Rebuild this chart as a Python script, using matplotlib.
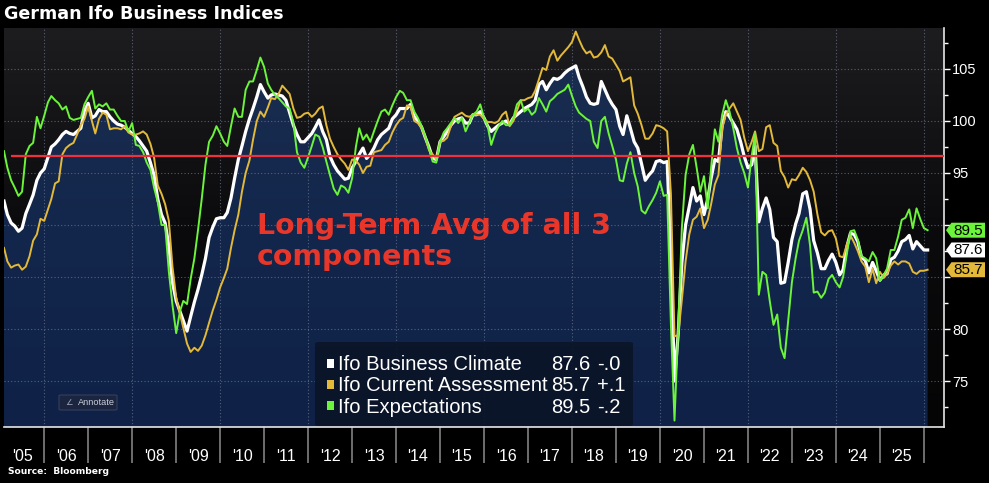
import numpy as np
import pandas as pd
import matplotlib
matplotlib.use("Agg")
import matplotlib.pyplot as plt
import matplotlib.dates as mdates
import matplotlib.transforms as mtransforms
from matplotlib.patches import Polygon, Rectangle, FancyBboxPatch
from matplotlib.colors import LinearSegmentedColormap

# monthly values, Jan 2005 .. Jan 2026 (one row per year)
climate = [
    92.3, 91.0, 90.2, 89.9, 89.4, 89.7, 91.1, 92.0, 92.9, 94.3, 95.0, 95.4,
    96.5, 97.5, 97.8, 98.2, 98.7, 99.0, 98.8, 98.7, 99.0, 99.3, 101.0, 101.7,
    100.3, 100.5, 101.1, 100.9, 100.9, 100.4, 100.0, 99.7, 99.6, 99.4, 99.1, 98.8,
    98.5, 98.1, 97.6, 97.1, 96.0, 94.8, 92.5, 91.0, 90.2, 88.0, 84.5, 82.7,
    81.7, 80.8, 79.8, 81.2, 82.6, 83.8, 85.2, 86.8, 88.8, 89.8, 90.6, 90.7,
    90.7, 91.2, 92.6, 94.5, 96.3, 97.6, 99.0, 100.2, 101.2, 102.3, 103.5, 102.8,
    102.2, 102.5, 102.6, 102.5, 102.4, 102.0, 100.8, 99.6, 98.7, 98.0, 98.0, 98.4,
    98.8, 99.4, 100.1, 99.0, 98.2, 96.6, 95.8, 95.2, 94.8, 94.4, 94.5, 95.5,
    96.1, 96.8, 97.4, 96.4, 96.8, 97.4, 98.2, 98.7, 99.0, 99.3, 100.2, 100.6,
    101.2, 101.2, 101.2, 101.6, 100.4, 100.0, 99.4, 98.4, 97.5, 96.4, 96.3, 98.0,
    98.5, 99.0, 99.6, 100.0, 100.2, 100.3, 99.8, 99.8, 100.6, 100.6, 100.9, 100.3,
    99.5, 99.0, 99.3, 99.6, 99.8, 100.0, 99.7, 100.3, 100.6, 100.9, 101.2, 101.4,
    101.6, 102.0, 103.5, 103.8, 103.0, 103.6, 104.1, 104.0, 104.2, 104.6, 104.9, 105.1,
    105.3, 104.2, 103.3, 102.3, 101.7, 101.6, 101.7, 103.8, 103.0, 102.2, 101.6, 101.1,
    99.5, 98.7, 100.5, 99.3, 98.0, 97.4, 95.9, 94.3, 94.8, 95.2, 96.1, 96.2,
    96.0, 96.1, 87.0, 75.0, 79.6, 86.4, 90.0, 91.8, 93.6, 92.3, 92.8, 91.0,
    92.5, 94.5, 96.3, 96.1, 99.6, 100.9, 100.4, 99.8, 99.2, 98.0, 96.6, 95.5,
    95.8, 97.6, 90.3, 91.6, 92.6, 91.5, 88.8, 88.4, 84.4, 84.5, 86.4, 88.6,
    90.1, 91.1, 93.0, 93.2, 91.5, 88.5, 87.3, 85.8, 85.8, 86.6, 87.2, 86.4,
    85.2, 85.7, 87.9, 89.2, 89.1, 88.4, 86.9, 86.6, 85.4, 86.4, 85.6, 84.7,
    85.2, 85.3, 86.7, 86.9, 87.5, 88.4, 88.6, 89.0, 87.7, 88.4, 88.0, 87.6,
    87.6,
]

current = [
    87.8, 86.5, 85.9, 86.1, 86.2, 85.7, 86.0, 87.0, 88.5, 89.1, 90.6, 90.4,
    91.5, 92.5, 94.0, 94.2, 96.8, 97.4, 97.7, 97.9, 98.7, 99.6, 100.2, 101.4,
    100.0, 98.8, 100.2, 100.8, 100.6, 99.2, 99.3, 99.3, 99.2, 99.5, 98.9, 98.7,
    98.7, 98.8, 99.0, 98.7, 97.8, 96.5, 93.8, 93.0, 92.0, 90.4, 86.0, 83.0,
    81.5, 80.1, 78.6, 77.8, 78.2, 77.9, 78.4, 79.4, 80.6, 81.8, 82.8, 84.0,
    84.9, 85.8, 87.8, 89.5, 91.0, 93.2, 95.0, 96.2, 98.2, 100.0, 100.9, 100.4,
    101.3, 102.2, 102.1, 102.6, 103.4, 103.0, 102.6, 101.2, 100.3, 100.4, 100.7, 100.8,
    100.4, 100.7, 101.2, 101.4, 99.6, 98.3, 97.5, 96.8, 96.3, 95.9, 95.3, 96.3,
    96.2, 95.8, 95.0, 95.6, 95.7, 97.0, 97.1, 97.2, 97.7, 98.0, 98.9, 99.6,
    100.1, 100.3, 101.5, 101.4, 100.0, 99.8, 99.3, 98.4, 97.2, 96.8, 96.3, 98.0,
    98.1, 98.4, 99.5, 100.4, 100.6, 100.8, 100.5, 100.4, 100.6, 100.6, 100.6, 100.2,
    99.9, 99.9, 99.8, 100.0, 100.6, 100.9, 99.5, 100.0, 101.0, 102.0, 102.0, 102.2,
    102.3, 102.9, 104.0, 105.1, 104.9, 106.2, 106.8, 105.8, 106.3, 106.7, 107.1, 107.6,
    108.6, 107.8, 107.0, 106.5, 106.7, 106.1, 106.2, 106.6, 107.3, 106.2, 106.0, 105.4,
    104.8, 103.8, 104.0, 104.2, 101.5, 100.7, 99.6, 98.3, 98.3, 98.8, 99.6, 99.5,
    99.3, 99.0, 93.0, 79.3, 79.4, 82.8, 86.5, 89.1, 90.5, 90.8, 91.6, 89.7,
    90.5, 92.0, 93.9, 94.8, 99.3, 100.6, 101.2, 101.7, 100.9, 100.1, 98.4, 97.1,
    98.0, 99.0, 97.1, 97.3, 99.4, 99.6, 97.9, 97.6, 95.2, 94.6, 93.6, 94.4,
    94.3, 94.8, 95.5, 95.1, 94.3, 93.2, 91.0, 89.3, 89.0, 89.4, 89.5, 88.7,
    87.0, 86.9, 88.1, 89.0, 88.3, 87.5, 86.5, 86.0, 84.5, 85.8, 84.4, 85.5,
    84.9, 85.3, 86.1, 86.5, 86.2, 86.5, 86.5, 86.3, 85.5, 85.3, 85.6, 85.6,
    85.7,
]

expect = [
    97.1, 95.5, 94.3, 93.6, 92.8, 93.2, 96.8, 97.6, 97.9, 100.4, 99.3, 100.5,
    101.8, 102.4, 102.0, 101.7, 101.1, 101.4, 100.3, 100.1, 100.2, 100.3, 101.6, 102.3,
    102.9, 101.2, 101.6, 101.4, 101.7, 101.1, 101.1, 100.5, 100.0, 100.0, 99.0, 99.8,
    97.7, 97.6, 97.0, 96.0, 95.3, 93.6, 92.2, 90.0, 90.0, 85.5, 82.3, 79.6,
    81.7, 82.7, 82.4, 84.8, 86.8, 89.5, 92.5, 95.8, 98.0, 98.6, 99.5, 98.8,
    98.0, 97.6, 99.5, 101.2, 100.4, 100.4, 103.0, 103.8, 103.8, 104.9, 106.1, 105.2,
    103.6, 103.0, 102.5, 102.2, 101.8, 101.4, 101.2, 99.8, 97.0, 96.0, 95.5, 96.5,
    97.6, 98.7, 98.5, 97.5, 96.1, 94.8, 93.5, 92.9, 93.8, 93.6, 93.1, 94.5,
    97.5, 99.3, 98.2, 98.7, 98.0, 99.0, 100.0, 100.9, 101.1, 100.6, 101.5, 102.3,
    102.9, 102.7, 102.0, 102.0, 100.9, 100.3, 99.5, 98.5, 97.4, 96.1, 96.0, 98.0,
    98.9, 99.3, 99.8, 100.3, 99.8, 100.3, 99.0, 99.8, 100.6, 100.9, 101.6, 100.3,
    99.5, 97.7, 98.8, 99.5, 100.0, 99.6, 99.6, 100.3, 101.6, 102.0, 100.9, 101.2,
    100.6, 100.9, 102.2, 101.6, 100.9, 101.9, 102.2, 102.6, 102.8, 103.0, 103.5, 102.4,
    101.4, 100.8, 100.5, 100.2, 100.0, 98.0, 97.4, 100.0, 100.4, 98.8, 97.6, 96.3,
    94.3, 94.2, 95.9, 97.0, 95.0, 93.7, 91.4, 91.1, 91.8, 92.4, 93.1, 94.2,
    92.8, 92.9, 80.5, 71.2, 80.1, 89.7, 94.8, 96.8, 97.7, 95.5, 93.2, 94.7,
    91.6, 95.5, 99.2, 98.0, 100.6, 102.0, 100.9, 99.3, 97.4, 96.0, 95.0, 93.6,
    96.6, 98.8, 83.3, 85.5, 85.2, 82.7, 80.4, 81.4, 78.2, 77.2, 80.8, 84.5,
    86.8, 88.5, 89.5, 90.7, 88.0, 83.5, 83.6, 83.0, 83.5, 84.8, 85.2, 84.5,
    84.0, 85.0, 87.2, 89.4, 89.5, 88.6, 87.0, 86.8, 86.5, 87.4, 86.8, 84.6,
    85.2, 85.8, 87.6, 87.6, 88.9, 90.5, 90.7, 91.5, 89.7, 91.6, 90.6, 89.7,
    89.5,
]

long_term_avg = 96.6

names = ["Ifo Business Climate", "Ifo Current Assessment", "Ifo Expectations"]
last_vals = ["87.6", "85.7", "89.5"]
changes = ["-.0", "+.1", "-.2"]
colors = ["#ffffff", "#e3b93a", "#6cf43a"]

dates = pd.date_range("2005-01-31", periods=len(climate), freq="ME")
xs = mdates.date2num(dates)

W, H = 989, 483
def fx(px):
    return px / W
def fy(py):
    return 1 - py / H

fig = plt.figure(figsize=(W / 100, H / 100), dpi=100, facecolor="black")
ax = fig.add_axes([fx(4), fy(427), fx(944) - fx(4), fy(28) - fy(427)])

ymin, ymax = 70.58, 108.94
xmin = xs[0]
xmax = mdates.date2num(pd.Timestamp("2026-06-16"))

# background gradient
bg = LinearSegmentedColormap.from_list("bg", ["#050506", "#0b0b0d", "#1d1d20"])
grad = np.linspace(0, 1, 256).reshape(-1, 1)
ax.imshow(grad, extent=[xmin, xmax, ymin, ymax], origin="lower", aspect="auto",
          cmap=bg, zorder=0)

# navy area under business climate
verts = np.column_stack([np.r_[xs, xs[-1], xs[0]], np.r_[climate, ymin, ymin]])
clip = Polygon(verts, closed=True, facecolor="none", edgecolor="none",
               transform=ax.transData)
ax.add_patch(clip)
navy = LinearSegmentedColormap.from_list("navy", ["#0f2146", "#13264b", "#1b2f52"])
im = ax.imshow(grad, extent=[xmin, xmax, ymin, ymax], origin="lower", aspect="auto",
               cmap=navy, zorder=1)
im.set_clip_path(clip)

# dotted grid
for yv in range(75, 106, 5):
    ax.axhline(yv, color="#6f7d95", lw=0.8, ls=(0, (1, 2)), alpha=0.7, zorder=2)
for yr in range(2006, 2027, 2):
    ax.axvline(mdates.date2num(pd.Timestamp(f"{yr}-01-01")), color="#6f7d95",
               lw=0.8, ls=(0, (1, 2)), alpha=0.7, zorder=2)

ax.plot(dates, climate, color=colors[0], lw=2.3, zorder=4, solid_joinstyle="round")
ax.plot(dates, current, color=colors[1], lw=1.4, zorder=5)
ax.plot(dates, expect, color=colors[2], lw=1.4, zorder=6)

ax.hlines(long_term_avg, mdates.date2num(pd.Timestamp("2005-04-01")), xmax,
          color="#f0303a", lw=1.6, zorder=7)

ax.text(fx(257), fy(234.5), "Long-Term Avg of all 3", transform=fig.transFigure,
        color="#e8372a", fontsize=20.4, fontweight="bold", family="DejaVu Sans",
        va="baseline", ha="left", zorder=8)
ax.text(fx(257), fy(265), "components", transform=fig.transFigure,
        color="#e8372a", fontsize=20.4, fontweight="bold", family="DejaVu Sans",
        va="baseline", ha="left", zorder=8)

ax.set_xlim(xmin, xmax)
ax.set_ylim(ymin, ymax)

# axes styling
ax.set_facecolor("black")
for side in ["top", "left"]:
    ax.spines[side].set_visible(False)
ax.spines["bottom"].set_color("#e6e6e6")
ax.spines["right"].set_color("#e6e6e6")
ax.spines["bottom"].set_linewidth(1.2)
ax.spines["right"].set_linewidth(1.2)

# value tags cover the 85 and 90 labels on the reference
hidden_ticks = [85, 90]
ax.yaxis.tick_right()
ax.set_yticks(range(75, 106, 5))
ax.set_yticks(np.arange(72.5, 108, 5), minor=True)
ax.yaxis.set_major_formatter(plt.FuncFormatter(
    lambda v, p: "" if round(v) in hidden_ticks else f"{v:.0f}"))
ax.tick_params(axis="y", which="major", colors="white", length=4.5, width=1,
               labelsize=10.5, pad=1.5)
ax.tick_params(axis="y", which="minor", colors="white", length=3, width=1)
for lab in ax.get_yticklabels():
    lab.set_family("Liberation Sans")

ax.xaxis.set_major_locator(mdates.YearLocator(1))
ax.xaxis.set_major_formatter(plt.NullFormatter())
ax.xaxis.set_minor_locator(mdates.YearLocator(1, month=7, day=1))
ax.xaxis.set_minor_formatter(mdates.DateFormatter("'%y"))
ax.tick_params(axis="x", which="major", colors="#8c8c8c", length=26, width=1.1)
ax.tick_params(axis="x", which="minor", length=0, labelsize=11.5,
               labelcolor="white", pad=15.5)
for lab in ax.get_xticklabels(minor=True):
    lab.set_family("Liberation Sans")

# title and source
fig.text(fx(4), fy(14), "German Ifo Business Indices", color="white",
         fontsize=12.6, fontweight="bold", family="DejaVu Sans", va="center")
fig.text(fx(8), fy(471), "Source:  Bloomberg", color="white", fontsize=6.6,
         fontweight="bold", family="DejaVu Sans", va="center")

# right-side value tags
blend = mtransforms.blended_transform_factory(fig.transFigure, ax.transData)
tag_vals = [float(v) for v in last_vals]
for val, col, txt in zip(tag_vals, colors, last_vals):
    hh = 0.72
    poly = Polygon([(fx(946), val), (fx(951.5), val + hh), (fx(985), val + hh),
                    (fx(985), val - hh), (fx(951.5), val - hh)], closed=True,
                   facecolor=col, edgecolor="none", transform=blend,
                   clip_on=False, zorder=10)
    fig.add_artist(poly)
    fig.text(fx(968.5), val - 0.05, txt, transform=blend, color="black",
             fontsize=11, family="Liberation Sans", ha="center", va="center",
             zorder=11)

# legend panel
panel = FancyBboxPatch((fx(315), fy(426)), fx(633) - fx(315), fy(342) - fy(426),
                       boxstyle="round,pad=0,rounding_size=0.004",
                       transform=fig.transFigure, facecolor="#0b1528",
                       edgecolor="none", alpha=0.93, zorder=12)
fig.add_artist(panel)
row_y = [363, 384, 405.5]
for name, val, chg, col, ry in zip(names, last_vals, changes, colors, row_y):
    fig.add_artist(Rectangle((fx(326.5), fy(ry + 4.5)), fx(7), 9 / H,
                             transform=fig.transFigure, facecolor=col,
                             edgecolor="none", zorder=13))
    fig.text(fx(337.5), fy(ry + 7.3), name, color="white", fontsize=14.5,
             family="Liberation Sans", va="baseline", zorder=13)
    fig.text(fx(551.5), fy(ry + 7.3), val, color="white", fontsize=14.5,
             family="Liberation Sans", va="baseline", zorder=13)
    fig.text(fx(597), fy(ry + 7.3), chg, color="white", fontsize=14.5,
             family="Liberation Sans", va="baseline", zorder=13)

# annotate button
btn = FancyBboxPatch((fx(59), fy(410)), fx(58), 15 / H,
                     boxstyle="round,pad=0,rounding_size=0.002",
                     transform=fig.transFigure, facecolor="#1b2540",
                     edgecolor="#34405c", lw=0.8, zorder=12)
fig.add_artist(btn)
fig.text(fx(69), fy(402.5), "\u2220", color="#9aa3b5", fontsize=6,
         family="DejaVu Sans", ha="center", va="center", zorder=13)
fig.text(fx(78), fy(402.5), "Annotate", color="#c9ced8", fontsize=6.6,
         family="Liberation Sans", va="center", zorder=13)

fig.savefig("out.png", dpi=100, facecolor="black")
